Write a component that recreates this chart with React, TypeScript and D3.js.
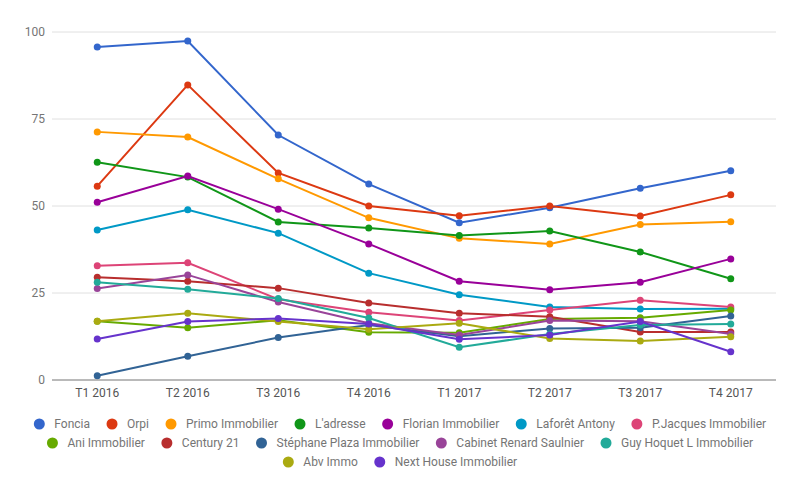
import { useEffect, useRef } from 'react'
import * as d3 from 'd3'

const quarters = ['T1 2016', 'T2 2016', 'T3 2016', 'T4 2016', 'T1 2017', 'T2 2017', 'T3 2017', 'T4 2017']
const yTicks = [0, 25, 50, 75, 100]

const agencies = [
  'Foncia', 'Orpi', 'Primo Immobilier', "L'adresse", 'Florian Immobilier', 'Laforêt Antony',
  'P.Jacques Immobilier', 'Ani Immobilier', 'Century 21', 'Stéphane Plaza Immobilier',
  'Cabinet Renard Saulnier', 'Guy Hoquet L Immobilier', 'Abv Immo', 'Next House Immobilier',
]

const foncia = [95.7, 97.4, 70.4, 56.3, 45.2, 49.5, 55.1, 60.1]
const orpi = [55.7, 84.8, 59.5, 50.0, 47.2, 50.0, 47.1, 53.2]
const primo = [71.3, 69.8, 57.8, 46.6, 40.7, 39.1, 44.7, 45.5]
const ladresse = [62.6, 58.3, 45.4, 43.7, 41.5, 42.8, 36.8, 29.1]
const florian = [51.1, 58.6, 49.1, 39.1, 28.4, 25.9, 28.1, 34.8]
const laforet = [43.1, 48.9, 42.2, 30.7, 24.5, 21.0, 20.4, 20.5]
const pjacques = [32.8, 33.7, 23.2, 19.5, 17.1, 20.1, 22.9, 21.0]
const ani = [16.9, 15.0, 17.2, 13.7, 13.6, 17.5, 17.9, 20.1]
const century = [29.5, 28.4, 26.4, 22.1, 19.2, 18.2, 13.8, 13.8]
const stephane = [1.2, 6.8, 12.2, 15.8, 12.6, 14.8, 15.0, 18.4]
const cabinet = [26.3, 30.2, 22.4, 16.3, 12.9, 17.1, 16.9, 13.2]
const guyHoquet = [28.1, 26.1, 23.4, 17.8, 9.4, 13.2, 15.8, 16.1]
const abv = [16.9, 19.2, 16.8, 14.6, 16.3, 11.9, 11.2, 12.4]
const nextHouse = [11.8, 16.8, 17.7, 16.1, 11.7, 12.9, 16.8, 8.1]

const seriesValues = [
  foncia, orpi, primo, ladresse, florian, laforet, pjacques,
  ani, century, stephane, cabinet, guyHoquet, abv, nextHouse,
]

const colors = [
  '#3366cc', '#dc3912', '#ff9900', '#109618', '#990099', '#0099c6', '#dd4477',
  '#66aa00', '#b82e2e', '#316395', '#994499', '#22aa99', '#aaaa11', '#6633cc',
]

export default function App() {
  const svgRef = useRef<SVGSVGElement>(null)

  useEffect(() => {
    if (!svgRef.current) return
    document.body.style.margin = '0'

    const width = 800
    const height = 494
    const plot = { left: 52, right: 776, top: 32, bottom: 380 }
    const font = 'Roboto, sans-serif'

    const svg = d3.select(svgRef.current)
    svg.selectAll('*').remove()

    const x = d3.scalePoint<string>()
      .domain(quarters)
      .range([plot.left, plot.right])
      .padding(0.5)

    const y = d3.scaleLinear()
      .domain([0, 100])
      .range([plot.bottom, plot.top])

    // gridlines
    svg.append('g')
      .selectAll('line')
      .data(yTicks.filter(t => t !== 0))
      .join('line')
      .attr('x1', plot.left)
      .attr('x2', plot.right)
      .attr('y1', d => y(d))
      .attr('y2', d => y(d))
      .attr('stroke', '#e0e0e0')
      .attr('stroke-width', 1)

    // y tick labels
    svg.append('g')
      .selectAll('text')
      .data(yTicks)
      .join('text')
      .attr('x', 45)
      .attr('y', d => y(d))
      .attr('dy', '0.35em')
      .attr('text-anchor', 'end')
      .attr('font-family', font)
      .attr('font-size', 12)
      .attr('fill', '#757575')
      .text(d => d)

    // x labels
    svg.append('g')
      .selectAll('text')
      .data(quarters)
      .join('text')
      .attr('x', d => x(d)!)
      .attr('y', 393)
      .attr('dy', '0.35em')
      .attr('text-anchor', 'middle')
      .attr('font-family', font)
      .attr('font-size', 12)
      .attr('fill', '#555')
      .text(d => d)

    // series
    const line = d3.line<number>()
      .x((_, i) => x(quarters[i])!)
      .y(d => y(d))

    seriesValues.forEach((vals, s) => {
      const g = svg.append('g')
      g.append('path')
        .attr('d', line(vals))
        .attr('fill', 'none')
        .attr('stroke', colors[s])
        .attr('stroke-width', 2)
      g.selectAll('circle')
        .data(vals)
        .join('circle')
        .attr('cx', (_, i) => x(quarters[i])!)
        .attr('cy', d => y(d))
        .attr('r', 3.5)
        .attr('fill', colors[s])
    })

    // baseline
    svg.append('line')
      .attr('x1', plot.left)
      .attr('x2', plot.right)
      .attr('y1', y(0))
      .attr('y2', y(0))
      .attr('stroke', '#757575')
      .attr('stroke-width', 1)

    // legend
    const legend = svg.append('g')
    const items = agencies.map((name, i) => {
      const g = legend.append('g')
      g.append('circle').attr('r', 5.5).attr('fill', colors[i])
      const t = g.append('text')
        .attr('x', 15)
        .attr('dy', '0.35em')
        .attr('font-family', font)
        .attr('font-size', 12)
        .attr('fill', '#757575')
        .text(name)
      const w = (t.node() as SVGTextElement).getComputedTextLength()
      return { g, w }
    })

    const maxRow = 770
    const rows: { g: any; w: number }[][] = [[]]
    let rowW = 0
    items.forEach(it => {
      const itemW = 5.5 + 15 + it.w
      const add = rows[rows.length - 1].length ? 22 + 15 + it.w : itemW
      if (rowW + add > maxRow && rows[rows.length - 1].length) {
        rows.push([])
        rowW = itemW
      } else {
        rowW += add
      }
      rows[rows.length - 1].push(it)
    })

    rows.forEach((row, r) => {
      const total = row.reduce((acc, it, i) => acc + (i ? 22 : 5.5) + 15 + it.w, 0)
      let cx = width / 2 - total / 2 + 5.5
      const cy = 424 + r * 19
      row.forEach(it => {
        it.g.attr('transform', `translate(${cx},${cy})`)
        cx += 15 + it.w + 22
      })
    })

    svg.attr('width', width).attr('height', height)
  }, [])

  return (
    <svg ref={svgRef} width={800} height={494} style={{ display: 'block', background: '#fff' }} />
  )
}
